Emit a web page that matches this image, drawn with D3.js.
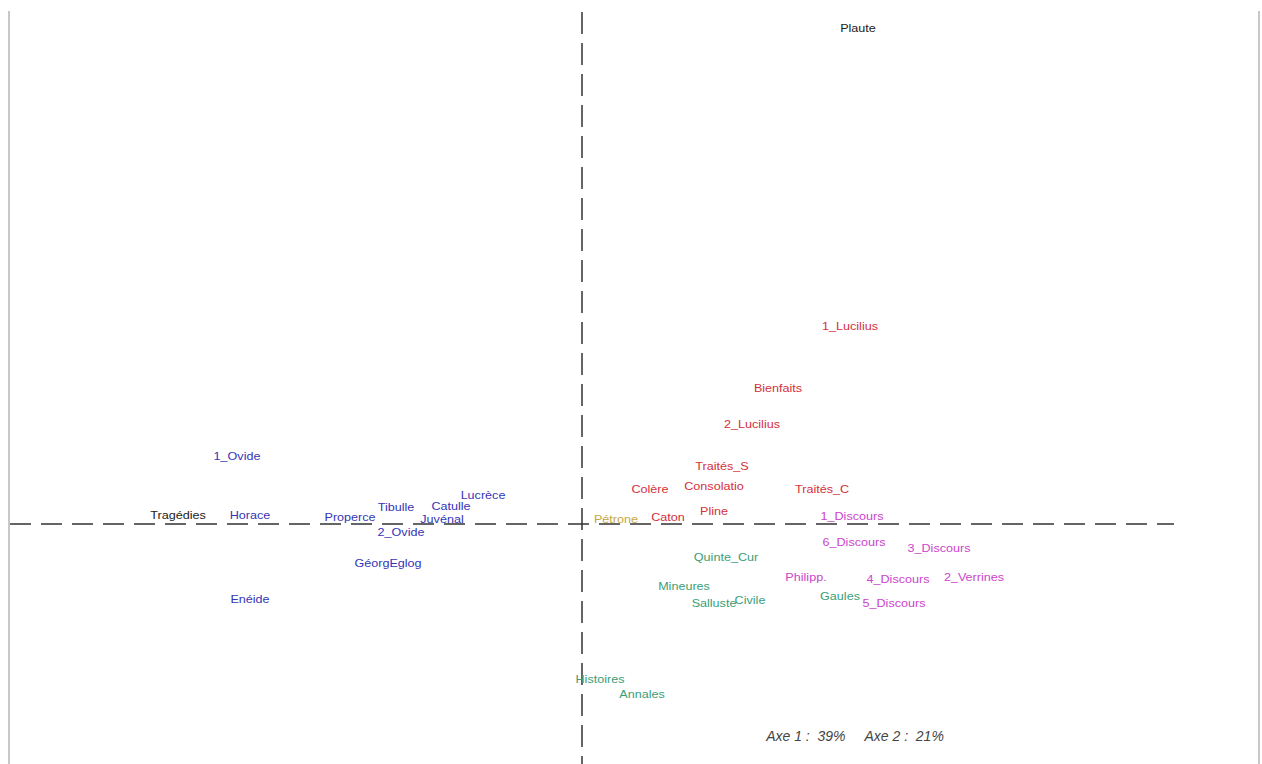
<!DOCTYPE html>
<html><head><meta charset="utf-8">
<script src="https://cdn.jsdelivr.net/npm/d3@7"></script>
<style>html,body{margin:0;padding:0;background:#fff;overflow:hidden}</style>
</head><body>
<script>
// Labels (works), coordinates on factor axes, and group
const labels = ["Plaute","1_Lucilius","Bienfaits","2_Lucilius","Traités_S","Colère","Consolatio","Traités_C","Pline","Caton","Pétrone",
 "1_Discours","6_Discours","3_Discours","2_Verrines","4_Discours","5_Discours","Philipp.",
 "Gaules","Quinte_Cur","Mineures","Salluste","Civile","Histoires","Annales",
 "Lucrèce","Catulle","Juvénal","Tibulle","2_Ovide","Properce","GéorgEglog","Horace","Tragédies","1_Ovide","Enéide"];
const axis1 = [0.69,0.67,0.49,0.425,0.35,0.17,0.33,0.60,0.33,0.215,0.085,
 0.675,0.68,0.8925,0.98,0.79,0.78,0.56,
 0.645,0.36,0.255,0.33,0.42,0.045,0.15,
 -0.2475,-0.3275,-0.35,-0.465,-0.4525,-0.58,-0.485,-0.83,-1.01,-0.8625,-0.83];
const axis2 = [1.24,0.495,0.34,0.25,0.145,0.0875,0.095,0.0875,0.0325,0.0175,0.0125,
 0.02,-0.045,-0.06,-0.1325,-0.1375,-0.1975,-0.1325,
 -0.18,-0.0825,-0.155,-0.1975,-0.19,-0.3875,-0.425,
 0.0725,0.045,0.012,0.0425,-0.02,0.0175,-0.0975,0.0225,0.0225,0.17,-0.1875];
const groups = ["comedy","seneca","seneca","seneca","seneca","seneca","seneca","seneca","seneca","seneca","novel",
 "cicero","cicero","cicero","cicero","cicero","cicero","cicero",
 "history","history","history","history","history","history","history",
 "poetry","poetry","poetry","poetry","poetry","poetry","poetry","poetry","tragedy","poetry","poetry"];
const groupNames = ["comedy","tragedy","seneca","novel","cicero","history","poetry"];
const groupColors = ["#222222","#222222","#d4303c","#c8a838","#cc44cc","#3a9e78","#3535b5"];
const inertia = ["Axe 1 :  39%","Axe 2 :  21%"];

const W = 1262, H = 764;
const svg = d3.select("body").append("svg").attr("width", W).attr("height", H);
const x = d3.scaleLinear().domain([-1.43, 1.52]).range([10, 1190]);
const y = d3.scaleLinear().domain([-0.6, 1.28]).range([764, 12]);
const color = d3.scaleOrdinal().domain(groupNames).range(groupColors);

// frame side lines
svg.append("line").attr("x1",9).attr("x2",9).attr("y1",11).attr("y2",H).attr("stroke","#c8c8c8").attr("stroke-width",2);
svg.append("line").attr("x1",1259).attr("x2",1259).attr("y1",11).attr("y2",H).attr("stroke","#c8c8c8").attr("stroke-width",2);

// dashed axes
svg.append("line").attr("x1", x(-1.43)).attr("x2", x(1.48)).attr("y1", y(0)).attr("y2", y(0))
  .attr("stroke","#333").attr("stroke-width",1.5).attr("stroke-dasharray","21,10");
svg.append("line").attr("x1", x(0)).attr("x2", x(0)).attr("y1", y(1.28)).attr("y2", H)
  .attr("stroke","#333").attr("stroke-width",1.5).attr("stroke-dasharray","22,9");

const data = labels.map((l,i)=>({label:l, a1:axis1[i], a2:axis2[i], g:groups[i]}));
svg.append("g").selectAll("text").data(data).join("text")
  .attr("transform", d => `translate(${x(d.a1)},${y(d.a2)}) scale(1.2,1)`)
  .attr("text-anchor","middle").attr("dy","0.35em")
  .attr("font-family","Liberation Sans, Arial, sans-serif").attr("font-size",10.5)
  .attr("fill", d => color(d.g))
  .text(d => d.label);

svg.append("text").attr("x", 855).attr("y", 741).attr("text-anchor","middle")
  .attr("font-family","Liberation Sans, Arial, sans-serif").attr("font-style","italic")
  .attr("font-size",14).attr("fill","#444")
  .attr("xml:space","preserve")
  .text(inertia.join("     "));
</script>
</body></html>
